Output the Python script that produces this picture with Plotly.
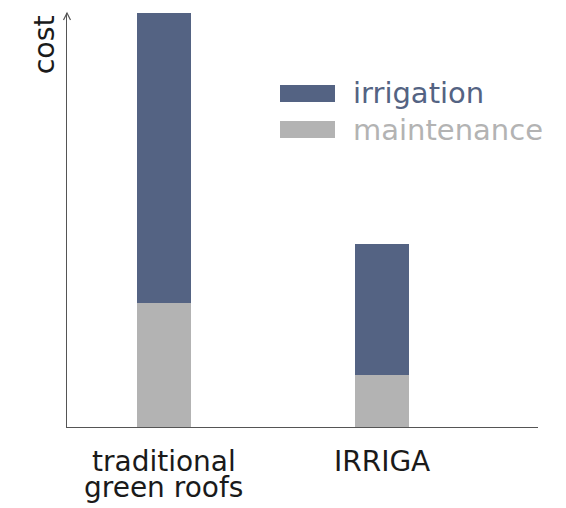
import plotly.graph_objects as go

categories = ["traditional<br>green roofs", "IRRIGA"]
maintenance = [30, 12.6]
irrigation = [70, 31.6]
series_names = ["irrigation", "maintenance"]
c_irr = "#546383"
c_mnt = "#b3b3b3"
FONT = "DejaVu Sans"

fig = go.Figure()
fig.add_trace(go.Bar(x=categories, y=maintenance, name=series_names[1],
                     marker=dict(color=c_mnt, line=dict(width=0)), width=0.25))
fig.add_trace(go.Bar(x=categories, y=irrigation, name=series_names[0],
                     marker=dict(color=c_irr, line=dict(width=0)), width=0.25))

fig.update_layout(
    barmode="stack", showlegend=False,
    width=566, height=508,
    margin=dict(l=59, r=36, t=5, b=89),
    plot_bgcolor="white", paper_bgcolor="white",
    font=dict(family=FONT, size=28, color="#1a1a1a"),
    xaxis=dict(range=[-0.445, 1.716], showline=True, linecolor="#555555", linewidth=1.3,
               showgrid=False, ticks="", zeroline=False, showticklabels=False),
    yaxis=dict(range=[0, 100], showline=True, linecolor="#555555", linewidth=1.3,
               showgrid=False, showticklabels=False, ticks="", zeroline=False),
)

# category labels, one annotation per line (tight line spacing)
for cat in categories:
    lines = cat.split("<br>")
    for i, line in enumerate(lines):
        kw = {}
        if i < len(lines) - 1:
            kw = dict(height=26, valign="top")
        fig.add_annotation(text=line, x=cat, xref="x", yref="paper", y=0,
                           xanchor="center", yanchor="top", yshift=-16 - 26 * i,
                           showarrow=False, font=dict(size=28, color="#1a1a1a"), **kw)

# y-axis arrow head
fig.add_shape(type="path", xref="paper", yref="paper", xsizemode="pixel", ysizemode="pixel",
              xanchor=0, yanchor=1, path="M-3.5,-7 L0,0 L3.5,-7",
              line=dict(color="#555555", width=1.2))

fig.add_annotation(text="cost", xref="paper", yref="paper", x=-0.047, y=1.0,
                   xanchor="center", yanchor="top", textangle=-90, showarrow=False,
                   font=dict(size=28.5, color="#1a1a1a"))

# legend
legend_items = [(series_names[0], c_irr, 0.0), (series_names[1], c_mnt, 36.0)]
for name, col, dy in legend_items:
    y_top = 1 - (72 + dy) / 414
    y_bot = 1 - (89 + dy) / 414
    fig.add_shape(type="rect", xref="paper", yref="paper",
                  x0=(280 - 67) / 471, x1=(335 - 67) / 471, y0=y_bot, y1=y_top,
                  fillcolor=col, line=dict(width=0))
    fig.add_annotation(text=name, xref="paper", yref="paper",
                       x=(351 - 67) / 471, y=(y_top + y_bot) / 2, xanchor="left", yanchor="middle",
                       showarrow=False, font=dict(size=29, color=col))

fig.write_html("out.html")
